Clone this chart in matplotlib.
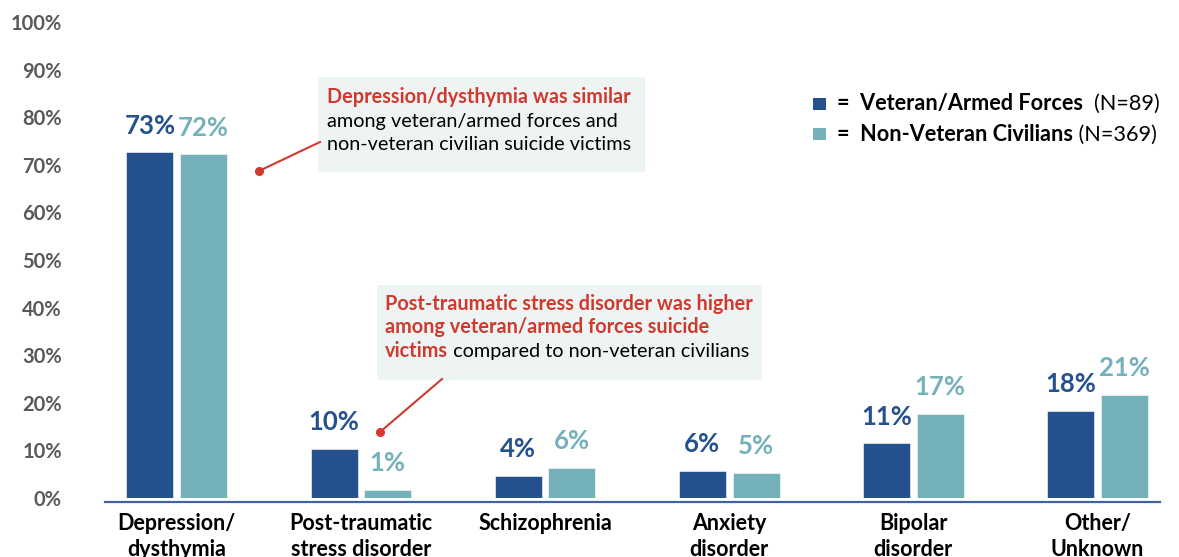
import matplotlib
matplotlib.use("Agg")
import matplotlib.pyplot as plt
from matplotlib.patches import Rectangle
import numpy as np

plt.rcParams['font.family'] = ['Lato', 'DejaVu Sans']

# ---- data ----
categories = ["Depression/\ndysthymia", "Post-traumatic\nstress disorder", "Schizophrenia",
              "Anxiety\ndisorder", "Bipolar\ndisorder", "Other/\nUnknown"]
veteran = [72.6, 10.3, 4.6, 5.7, 11.5, 18.3]
civilian = [72.2, 1.7, 6.3, 5.2, 17.6, 21.6]
veteran_labels = ["73%", "10%", "4%", "6%", "11%", "18%"]
civilian_labels = ["72%", "1%", "6%", "5%", "17%", "21%"]
yticks = [0, 10, 20, 30, 40, 50, 60, 70, 80, 90, 100]
ytick_labels = [f"{v}%" for v in yticks]

DARK = '#25518f'
LIGHT = '#75b1bb'
RED = '#d03a2e'
GREY = '#595959'
BOXBG = '#eef4f4'

W, H = 1179, 557
fig = plt.figure(figsize=(W / 100, H / 100), dpi=100)

def fx(x):
    return x / W

def fy(y):
    return 1 - y / H

ax = fig.add_axes([fx(105), fy(498), fx(1160) - fx(105), fy(22) - fy(498)])

for s in ['top', 'right', 'left']:
    ax.spines[s].set_visible(False)
ax.spines['bottom'].set_position(('outward', 3))
ax.spines['bottom'].set_color('#3f64a3')
ax.spines['bottom'].set_linewidth(1.6)

x = np.arange(len(categories))
bw = 0.255
off = 0.146
ax.bar(x - off, veteran, bw, color=DARK, edgecolor='white', linewidth=0.4)
ax.bar(x + off, civilian, bw, color=LIGHT, edgecolor='white', linewidth=0.4)

for xi, v, lab in zip(x, veteran, veteran_labels):
    ax.annotate(lab, (xi - off, v), xytext=(0, 13.5), textcoords='offset points',
                ha='center', va='baseline', fontsize=18.5, fontweight='bold', color=DARK)
for xi, v, lab in zip(x, civilian, civilian_labels):
    ax.annotate(lab, (xi + off, v), xytext=(0, 13.5), textcoords='offset points',
                ha='center', va='baseline', fontsize=18.5, fontweight='bold', color=LIGHT)

ax.set_xlim(-0.39, 5.34)
ax.set_ylim(0, 100)
ax.set_yticks(yticks)
ax.set_yticklabels(ytick_labels, fontsize=14.5, fontweight='bold', color=GREY)
ax.set_xticks(x)
ax.set_xticklabels(categories, fontsize=15.5, fontweight='bold', color='black', linespacing=1.3)
ax.tick_params(axis='y', length=0, pad=31)
ax.tick_params(axis='x', length=0, pad=8)

# ---- annotation boxes ----
fig.patches.append(Rectangle((fx(318), fy(172)), fx(645) - fx(318), fy(77) - fy(172),
                             transform=fig.transFigure, facecolor=BOXBG, edgecolor='none', zorder=0))
fig.patches.append(Rectangle((fx(377), fy(380)), fx(762) - fx(377), fy(285) - fy(380),
                             transform=fig.transFigure, facecolor=BOXBG, edgecolor='none', zorder=0))

fs = 14.3
fig.text(fx(327), fy(103), "Depression/dysthymia was similar", fontsize=fs, fontweight='bold',
         color=RED, va='baseline', ha='left')
fig.text(fx(327), fy(127), "among veteran/armed forces and", fontsize=fs, color='black',
         va='baseline', ha='left')
fig.text(fx(327), fy(150), "non-veteran civilian suicide victims", fontsize=fs, color='black',
         va='baseline', ha='left')

fig.text(fx(385), fy(310), "Post-traumatic stress disorder was higher", fontsize=fs, fontweight='bold',
         color=RED, va='baseline', ha='left')
fig.text(fx(385), fy(333), "among veteran/armed forces suicide", fontsize=fs, fontweight='bold',
         color=RED, va='baseline', ha='left')
t = fig.text(fx(385), fy(357), "victims", fontsize=fs, fontweight='bold',
             color=RED, va='baseline', ha='left')
fig.canvas.draw()
bb = t.get_window_extent()
fig.text(bb.x1 / W, fy(357), " compared to non-veteran civilians", fontsize=fs, color='black',
         va='baseline', ha='left')

# connector lines with dots
for (x0, y0, x1, y1) in [(259, 171, 320, 142), (380, 432, 442, 379)]:
    fig.add_artist(plt.Line2D([fx(x0), fx(x1)], [fy(y0), fy(y1)], transform=fig.transFigure,
                              color=RED, linewidth=1.5))
    fig.add_artist(plt.Line2D([fx(x0)], [fy(y0)], transform=fig.transFigure, marker='o',
                              markersize=5.5, color=RED, linestyle='none'))

# ---- legend ----
lfs = 15.6
for (ytop, col) in [(98, DARK), (128, LIGHT)]:
    fig.patches.append(Rectangle((fx(813), fy(ytop + 12)), fx(826) - fx(813), fy(ytop) - fy(ytop + 12),
                                 transform=fig.transFigure, facecolor=col, edgecolor='none'))
for (yb, bold, norm) in [(110, "=  Veteran/Armed Forces", "  (N=89)"),
                         (141, "=  Non-Veteran Civilians", " (N=369)")]:
    tb = fig.text(fx(837), fy(yb), bold, fontsize=lfs, fontweight='bold', color='black',
                  va='baseline', ha='left')
    fig.canvas.draw()
    b = tb.get_window_extent()
    fig.text(b.x1 / W, fy(yb), norm, fontsize=lfs, color='black', va='baseline', ha='left')

fig.savefig("out.png", dpi=100)
